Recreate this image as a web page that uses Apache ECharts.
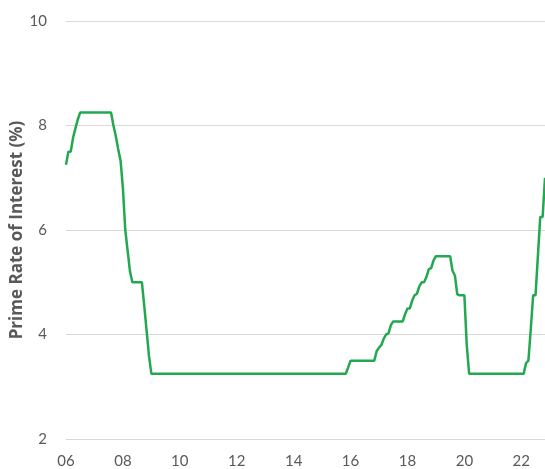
<!DOCTYPE html>
<html>
<head>
<meta charset="utf-8">
<script src="https://cdn.jsdelivr.net/npm/echarts@6/dist/echarts.min.js"></script>
<style>
html,body{margin:0;padding:0;background:#fff;}
#chart{width:545px;height:469px;}
</style>
</head>
<body>
<div id="chart"></div>
<script>
// Monthly prime rate (%), Jan 2006 .. Nov 2022
const startYear = 2006;
const rates = [
  7.25, 7.5, 7.5, 7.77, 7.95, 8.12, 8.25, 8.25, 8.25, 8.25, 8.25, 8.25,      // 2006
  8.25, 8.25, 8.25, 8.25, 8.25, 8.25, 8.25, 8.25, 8.0, 7.8, 7.55, 7.33,      // 2007
  6.8, 6.0, 5.6, 5.2, 5.0, 5.0, 5.0, 5.0, 5.0, 4.55, 4.07, 3.59,             // 2008
  3.25, 3.25, 3.25, 3.25, 3.25, 3.25, 3.25, 3.25, 3.25, 3.25, 3.25, 3.25,    // 2009
  3.25, 3.25, 3.25, 3.25, 3.25, 3.25, 3.25, 3.25, 3.25, 3.25, 3.25, 3.25,    // 2010
  3.25, 3.25, 3.25, 3.25, 3.25, 3.25, 3.25, 3.25, 3.25, 3.25, 3.25, 3.25,    // 2011
  3.25, 3.25, 3.25, 3.25, 3.25, 3.25, 3.25, 3.25, 3.25, 3.25, 3.25, 3.25,    // 2012
  3.25, 3.25, 3.25, 3.25, 3.25, 3.25, 3.25, 3.25, 3.25, 3.25, 3.25, 3.25,    // 2013
  3.25, 3.25, 3.25, 3.25, 3.25, 3.25, 3.25, 3.25, 3.25, 3.25, 3.25, 3.25,    // 2014
  3.25, 3.25, 3.25, 3.25, 3.25, 3.25, 3.25, 3.25, 3.25, 3.25, 3.25, 3.37,    // 2015
  3.5, 3.5, 3.5, 3.5, 3.5, 3.5, 3.5, 3.5, 3.5, 3.5, 3.5, 3.68,               // 2016
  3.75, 3.8, 3.92, 4.0, 4.02, 4.18, 4.25, 4.25, 4.25, 4.25, 4.25, 4.39,      // 2017
  4.5, 4.5, 4.65, 4.75, 4.78, 4.92, 5.0, 5.0, 5.1, 5.25, 5.27, 5.42,         // 2018
  5.5, 5.5, 5.5, 5.5, 5.5, 5.5, 5.5, 5.22, 5.13, 4.77, 4.75, 4.75,           // 2019
  4.75, 3.8, 3.25, 3.25, 3.25, 3.25, 3.25, 3.25, 3.25, 3.25, 3.25, 3.25,     // 2020
  3.25, 3.25, 3.25, 3.25, 3.25, 3.25, 3.25, 3.25, 3.25, 3.25, 3.25, 3.25,    // 2021
  3.25, 3.25, 3.45, 3.5, 4.1, 4.75, 4.75, 5.5, 6.25, 6.25, 7.0               // 2022 (to Nov)
];
const yTicks = [2, 4, 6, 8, 10];
const yAxisTitle = 'Prime Rate of Interest (%)';

// month categories "YYYY-MM"
const months = rates.map((_, i) => {
  const y = startYear + Math.floor(i / 12);
  const m = (i % 12) + 1;
  return y + '-' + (m < 10 ? '0' + m : m);
});

const chart = echarts.init(document.getElementById('chart'), null, {renderer: 'canvas'});
const font = 'Lato, "Open Sans", sans-serif';
chart.setOption({
  animation: false,
  backgroundColor: '#ffffff',
  grid: {left: 66, right: 0, top: 21, bottom: 30, containLabel: false, outerBoundsMode: 'none'},
  xAxis: {
    type: 'category',
    data: months,
    boundaryGap: false,
    axisLine: {show: false},
    axisTick: {show: false},
    splitLine: {show: false},
    axisLabel: {
      interval: function (index) { return index % 24 === 0; },
      hideOverlap: false,
      margin: 15,
      color: '#595959',
      fontFamily: font,
      fontSize: 15,
      formatter: v => v.slice(2, 4)
    }
  },
  yAxis: {
    type: 'value',
    min: yTicks[0],
    max: yTicks[yTicks.length - 1],
    interval: 2,
    name: yAxisTitle,
    nameLocation: 'middle',
    nameMoveOverlap: false,
    nameGap: 40,
    nameTextStyle: {color: '#595959', fontFamily: '"Open Sans", Lato, sans-serif', fontSize: 17, fontWeight: 'bold'},
    axisLine: {show: false},
    axisTick: {show: false},
    axisLabel: {margin: 19, color: '#595959', fontFamily: font, fontSize: 15},
    splitLine: {show: true, lineStyle: {color: '#d9d9d9', width: 1}}
  },
  series: [{
    type: 'line',
    data: rates,
    showSymbol: false,
    symbol: 'none',
    lineStyle: {color: '#22a84f', width: 2.5},
    itemStyle: {color: '#22a84f'}
  }]
});
</script>
</body>
</html>
